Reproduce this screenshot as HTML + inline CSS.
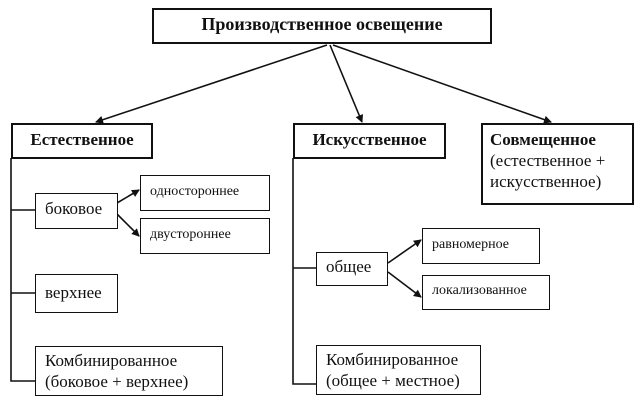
<!DOCTYPE html>
<html><head><meta charset="utf-8"><style>
body{margin:0;background:#fff;width:641px;height:415px;overflow:hidden;position:relative;font-family:"Liberation Serif",serif;color:#111}
.b{position:absolute;border:2px solid #111;box-sizing:border-box;background:#fff}
.t{position:absolute;white-space:nowrap}
svg{position:absolute;left:0;top:0}
</style></head><body>
<svg width="641" height="415">
<defs><marker id="a" markerWidth="8" markerHeight="8" refX="7" refY="4" orient="auto" markerUnits="userSpaceOnUse"><path d="M0,0L8,4L0,8z" fill="#111"/></marker></defs>
<g stroke="#111" stroke-width="1.6" fill="none">
<line x1="327" y1="45" x2="96" y2="122" marker-end="url(#a)"/>
<line x1="330" y1="45" x2="362" y2="122" marker-end="url(#a)"/>
<line x1="333" y1="45" x2="551" y2="122" marker-end="url(#a)"/>
<polyline points="11,158 11,381 35,381"/>
<line x1="11" y1="210" x2="35" y2="210"/>
<line x1="11" y1="293" x2="35" y2="293"/>
<polyline points="293,158 293,384 317,384"/>
<line x1="293" y1="268" x2="317" y2="268"/>
<line x1="117" y1="203" x2="139" y2="190" marker-end="url(#a)"/>
<line x1="117" y1="214" x2="139" y2="236" marker-end="url(#a)"/>
<line x1="388" y1="263" x2="421" y2="240" marker-end="url(#a)"/>
<line x1="388" y1="272" x2="421" y2="297" marker-end="url(#a)"/>
</g></svg>
<div class="b" style="left:152px;top:8px;width:340px;height:36px"></div>
<div class="t" style="left:152px;top:14px;width:340px;text-align:center;font-weight:bold;font-size:18px">Производственное освещение</div>
<div class="b" style="left:11px;top:123px;width:142px;height:36px"></div>
<div class="t" style="left:11px;top:130px;width:142px;text-align:center;font-weight:bold;font-size:17px">Естественное</div>
<div class="b" style="left:293px;top:123px;width:153px;height:36px"></div>
<div class="t" style="left:293px;top:130px;width:153px;text-align:center;font-weight:bold;font-size:17px">Искусственное</div>
<div class="b" style="left:481px;top:123px;width:153px;height:82px"></div>
<div class="t" style="left:490px;top:129px;font-size:17px;line-height:21px"><b>Совмещенное</b><br>(естественное +<br>искусственное)</div>
<div class="b" style="left:35px;top:193px;width:83px;height:36px;border-width:1.5px"></div>
<div class="t" style="left:45px;top:199px;font-size:17px">боковое</div>
<div class="b" style="left:140px;top:175px;width:130px;height:36px;border-width:1.5px"></div>
<div class="t" style="left:150px;top:184px;font-size:14px">одностороннее</div>
<div class="b" style="left:140px;top:218px;width:130px;height:36px;border-width:1.5px"></div>
<div class="t" style="left:150px;top:227px;font-size:14px">двустороннее</div>
<div class="b" style="left:35px;top:274px;width:83px;height:39px;border-width:1.5px"></div>
<div class="t" style="left:45px;top:283px;font-size:17px">верхнее</div>
<div class="b" style="left:35px;top:346px;width:188px;height:50px;border-width:1.5px"></div>
<div class="t" style="left:45px;top:350px;font-size:17px;line-height:21px">Комбинированное<br>(боковое + верхнее)</div>
<div class="b" style="left:316px;top:252px;width:72px;height:34px;border-width:1.5px"></div>
<div class="t" style="left:326px;top:257px;font-size:17px">общее</div>
<div class="b" style="left:422px;top:228px;width:118px;height:36px;border-width:1.5px"></div>
<div class="t" style="left:432px;top:237px;font-size:14px">равномерное</div>
<div class="b" style="left:422px;top:275px;width:128px;height:35px;border-width:1.5px"></div>
<div class="t" style="left:432px;top:283px;font-size:14px">локализованное</div>
<div class="b" style="left:316px;top:345px;width:165px;height:50px;border-width:1.5px"></div>
<div class="t" style="left:326px;top:349px;font-size:17px;line-height:21px">Комбинированное<br>(общее + местное)</div>
</body></html>
